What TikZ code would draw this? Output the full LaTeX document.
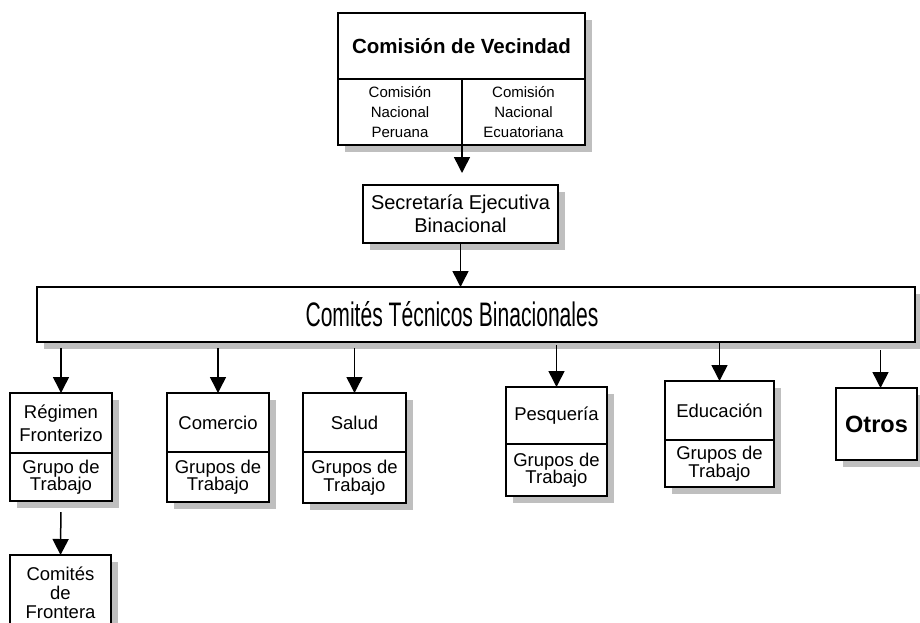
\documentclass[tikz,border=0pt]{standalone}
\usepackage{fontspec}
\setmainfont{Liberation Sans}
\newfontfamily\narrowfont[FakeStretch=0.62]{Liberation Sans}
\usetikzlibrary
  {
    arrows.meta,   % big filled arrow heads
    shadows,       % grey shadows behind the boxes
    positioning,   % place nodes relative to other nodes
  }

\tikzset{
  box/.style={draw, line width=1.2pt, fill=white, inner sep=1pt, outer sep=0pt,
    align=center, font=\fontsize{18.5}{17.5}\selectfont},
  boxshadow/.style={drop shadow={shadow xshift=7pt, shadow yshift=-7pt,
    fill=black!25, opacity=1}},
  arr/.style={line width=1.5pt, -{Triangle[width=16pt,length=16pt]}},
}

\begin{document}
\begin{tikzpicture}[x=1pt, y=-1pt]
    \useasboundingbox (0,0) rectangle (920,622);
    \clip (0,0) rectangle (920,622);

    % top box, cut in three parts
    \node [box, boxshadow, anchor=north west, minimum width=247pt, minimum height=66pt,
      font=\bfseries\fontsize{20.5}{20}\selectfont] (cv) at (338,13) {Comisión de Vecindad};
    \node [box, boxshadow, anchor=north west, minimum width=124pt, minimum height=66pt,
      font=\fontsize{15}{20}\selectfont] (peru) at (cv.south west) {Comisión\\Nacional\\Peruana};
    \node [box, boxshadow, anchor=north west, minimum width=123pt, minimum height=66pt,
      font=\fontsize{15}{20}\selectfont] (ecua) at (peru.north east) {Comisión\\Nacional\\Ecuatoriana};

    \node [box, boxshadow, anchor=north west, minimum width=195pt, minimum height=58pt,
      font=\fontsize{20}{23}\selectfont] (sec) at (363,185) {Secretaría Ejecutiva\\Binacional};

    \node [box, boxshadow, anchor=north west, minimum width=878pt, minimum height=55pt,
      font=\narrowfont\fontsize{34}{34}\selectfont] (ctb) at (37,287)
      {Comités Técnicos Binacionales\hspace*{48pt}};

    % committees, each with its working groups below
    \node [box, boxshadow, anchor=north west, minimum width=102pt, minimum height=60pt,
      font=\fontsize{18.5}{23}\selectfont] (reg) at (10,393) {Régimen\\Fronterizo};
    \node [box, boxshadow, below=0pt of reg, minimum width=102pt, minimum height=48pt] (regG)
      {Grupo de\\Trabajo};
    \node [box, boxshadow, anchor=north west, minimum width=101pt, minimum height=76pt,
      font=\fontsize{18.5}{19}\selectfont] (fro) at (10,555) {Comités\\de\\Frontera};

    \node [box, boxshadow, anchor=north west, minimum width=102pt, minimum height=59pt] (com)
      at (167,393) {Comercio};
    \node [box, boxshadow, below=0pt of com, minimum width=102pt, minimum height=50pt] (comG)
      {Grupos de\\Trabajo};

    \node [box, boxshadow, anchor=north west, minimum width=103pt, minimum height=59pt] (sal)
      at (303,393) {Salud};
    \node [box, boxshadow, below=0pt of sal, minimum width=103pt, minimum height=51pt] (salG)
      {Grupos de\\Trabajo};

    \node [box, boxshadow, anchor=north west, minimum width=101pt, minimum height=57pt] (pes)
      at (506,387) {Pesquería};
    \node [box, boxshadow, below=0pt of pes, minimum width=101pt, minimum height=52pt] (pesG)
      {Grupos de\\Trabajo};

    \node [box, boxshadow, anchor=north west, minimum width=109pt, minimum height=59pt] (edu)
      at (665,381) {Educación};
    \node [box, boxshadow, below=0pt of edu, minimum width=109pt, minimum height=47pt] (eduG)
      {Grupos de\\Trabajo};

    \node [box, boxshadow, anchor=north west, minimum width=81pt, minimum height=72pt,
      font=\bfseries\fontsize{23.5}{23}\selectfont] (otr) at (836,388) {Otros};

    % arrows
    \draw [arr, shorten >=12pt] (peru.south east) -- (peru.south east |- sec.north);
    \draw [arr] (sec.south) -- (sec.south |- ctb.north);
    \draw [arr, shorten <=6pt] (reg.north |- ctb.south) -- (reg.north);
    \draw [arr, shorten <=6pt] (com.north |- ctb.south) -- (com.north);
    \draw [arr, shorten <=6pt] (sal.north |- ctb.south) -- (sal.north);
    \draw [arr, shorten <=3pt] (pes.north |- ctb.south) -- (pes.north);
    \draw [arr] (edu.north |- ctb.south) -- (edu.north);
    \draw [arr, shorten <=8pt] ([xshift=4pt]otr.north |- ctb.south) -- ([xshift=4pt]otr.north);
    \draw [arr, shorten <=11pt] (regG.south) -- (fro.north);

  \end{tikzpicture}
\end{document}
